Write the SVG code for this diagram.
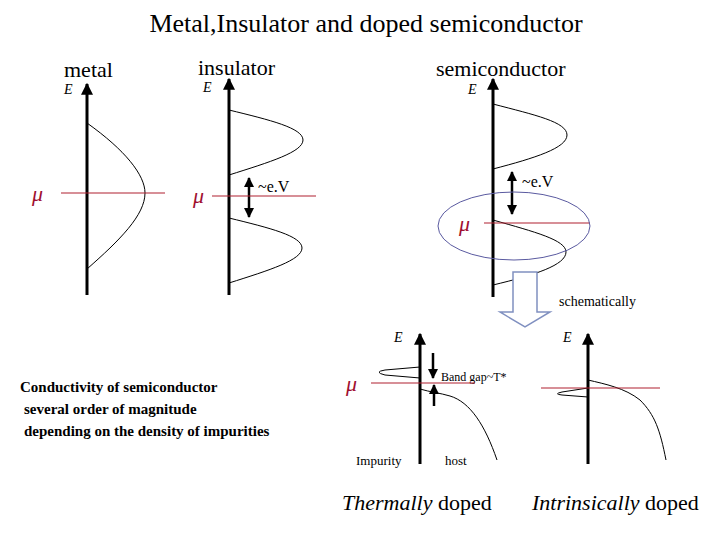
<svg xmlns="http://www.w3.org/2000/svg" width="720" height="540" viewBox="0 0 720 540">
<defs>
<marker id="ah" viewBox="0 0 10 10" refX="9" refY="5" markerWidth="4" markerHeight="4" orient="auto-start-reverse"><path d="M0,0L10,5L0,10z" fill="#000"/></marker>
</defs>
<style>
text, tspan { font-family: "Liberation Serif", "DejaVu Serif", serif; }
.ax{stroke:#000;stroke-width:3;fill:none;marker-end:url(#ah)}
.dv{stroke:#000;stroke-width:2.5;fill:none;marker-end:url(#ah);marker-start:url(#ah)}
.ar{stroke:#000;stroke-width:2.5;fill:none;marker-end:url(#ah)}
.c{stroke:#000;stroke-width:1;fill:none}
.r{stroke:#b02030;stroke-width:1.2}
.mu{fill:#a01030;font-size:22px;font-style:italic}
.E{font-style:italic;font-size:14px}
</style>
<rect width="720" height="540" fill="#fff"/>
<text x="366" y="32" font-family="Liberation Serif, serif" font-size="26" text-anchor="middle">Metal,Insulator and doped semiconductor</text>
<g id="metal">
<text x="64" y="77" font-family="Liberation Serif, serif" font-size="22">metal</text>
<text x="64" y="94" class="E">E</text>
<line class="ax" x1="87" y1="295" x2="87" y2="84"/>
<path class="c" d="M87,123 C125,150 145,175 145,193 C145,215 120,240 87,269"/>
<line class="r" x1="61" y1="193" x2="165" y2="193"/>
<text x="32" y="201" class="mu">μ</text>
</g>
<g id="insulator">
<text x="198" y="75" font-family="Liberation Serif, serif" font-size="22">insulator</text>
<text x="203" y="92" class="E">E</text>
<line class="ax" x1="229" y1="295" x2="229" y2="79"/>
<path class="c" d="M229,110 C270,120 303,128 303,140 C303,152 270,162 229,175"/>
<path class="c" d="M229,218 C270,228 302,236 302,248 C302,260 270,270 229,283"/>
<line class="dv" x1="249" y1="178" x2="249" y2="217"/>
<text x="258" y="192" font-size="16">~e.V</text>
<line class="r" x1="212" y1="196" x2="316" y2="196"/>
<text x="193" y="203" class="mu">μ</text>
</g>
<g id="semiconductor">
<text x="436" y="76" font-family="Liberation Serif, serif" font-size="22">semiconductor</text>
<text x="468" y="94" class="E">E</text>
<line class="ax" x1="493" y1="297" x2="493" y2="79"/>
<path class="c" d="M493,104 C535,115 567,122 567,135 C567,148 535,158 493,169"/>
<path class="c" d="M493,220 C535,232 566,240 566,252 C566,265 535,275 493,285"/>
<line class="dv" x1="512" y1="172" x2="512" y2="214"/>
<text x="522" y="187" font-size="16">~e.V</text>
<line class="r" x1="484" y1="223" x2="590" y2="223"/>
<text x="459" y="231" class="mu">μ</text>
<ellipse cx="514" cy="226" rx="76" ry="34" fill="none" stroke="#5a5aa0" stroke-width="1"/>
</g>
<g id="bigarrow">
<path d="M513,272H537V312H550L525,327L500,312H513Z" fill="#fff" stroke="#8090c0" stroke-width="1.5"/>
<text x="559" y="306" font-size="14">schematically</text>
</g>
<g id="conductivity" font-weight="bold" font-size="15">
<text x="20" y="392" font-family="Liberation Serif, serif">Conductivity of semiconductor</text>
<text x="24" y="414" font-family="Liberation Serif, serif">several order of magnitude</text>
<text x="24" y="436" font-family="Liberation Serif, serif">depending on  the density of impurities</text>
</g>
<g id="thermally">
<text x="394" y="342" class="E">E</text>
<line class="ax" x1="420" y1="464" x2="420" y2="334"/>
<path class="c" d="M420,367 L385,370 Q373,372 385,375 L420,378"/>
<path class="c" d="M420,389 C430,392 440,393 450,396 C470,402 485,425 497,460"/>
<line class="ar" x1="433" y1="353" x2="433" y2="378"/>
<line class="ar" x1="434" y1="406" x2="434" y2="385"/>
<text x="441" y="381" font-size="12">Band gap~T*</text>
<line class="r" x1="371" y1="383" x2="475" y2="383"/>
<text x="346" y="391" class="mu">μ</text>
<text x="356" y="465" font-size="13">Impurity</text>
<text x="445" y="465" font-size="13">host</text>
<text x="342" y="510" font-family="Liberation Serif, serif" font-size="22"><tspan font-style="italic">Thermally</tspan> doped</text>
</g>
<g id="intrinsic">
<text x="563" y="342" class="E">E</text>
<line class="ax" x1="588" y1="464" x2="588" y2="334"/>
<path class="c" d="M588,388 L562,392 Q553,394 562,395 L588,397"/>
<path class="c" d="M588,380 C605,384 625,388 640,400 C655,415 660,430 666,460"/>
<line class="r" x1="541" y1="388" x2="660" y2="388"/>
<text x="532" y="510" font-family="Liberation Serif, serif" font-size="22"><tspan font-style="italic">Intrinsically</tspan> doped</text>
</g>
</svg>
